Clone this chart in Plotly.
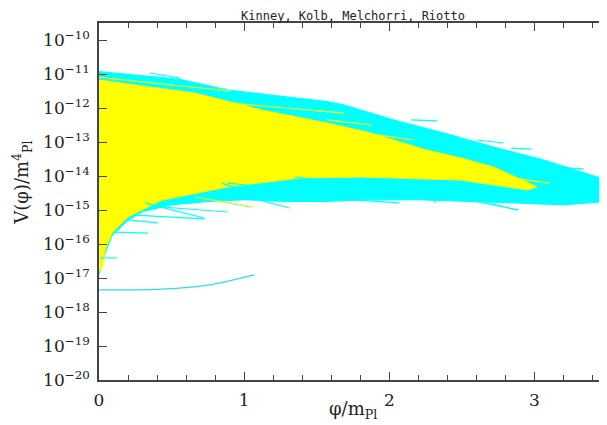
import plotly.graph_objects as go

# ---- data (x = phi/m_Pl, L = log10 V/m_Pl^4) ----
cyan_upper_x = [0, 0.55, 0.887, 1.57, 1.69, 2.03, 2.38, 2.72, 3.065, 3.5]
cyan_upper_L = [-10.93, -11.15, -11.47, -11.81, -11.91, -12.35, -12.74, -13.15, -13.53, -14.12]
cyan_lower_x = [3.5, 3.2, 2.9, 2.5, 2.2, 1.85, 1.55, 1.3, 1.0, 0.75, 0.5, 0.3, 0.2, 0.09, 0.04, 0]
cyan_lower_L = [-14.75, -14.85, -14.8, -14.75, -14.7, -14.7, -14.75, -14.75, -14.7, -14.75, -14.85, -15.05, -15.3, -15.75, -16.3, -16.9]

yellow_upper_x = [0, 0.66, 1.12, 1.57, 1.85, 2.26, 2.49, 2.72, 3.017]
yellow_upper_L = [-11.18, -11.56, -12.06, -12.44, -12.71, -13.24, -13.47, -13.74, -14.32]
yellow_lower_x = [2.95, 2.49, 1.81, 1.38, 0.887, 0.433, 0.2, 0.089, 0.041, 0.021, 0]
yellow_lower_L = [-14.41, -14.12, -14.03, -14.06, -14.32, -14.71, -15.2, -15.68, -16.18, -16.7, -16.8]

# individual cyan streaks: (x0, L0, x1, L1)
cyan_streaks = [
    (0.007, -16.41, 0.124, -16.41),
    (0.11, -15.65, 0.337, -15.68),
    (0.2, -15.29, 0.405, -15.38),
    (0.247, -15.15, 0.729, -15.26),
    (0.316, -14.79, 0.729, -15.24),
    (0.433, -14.91, 0.887, -15.06),
    (0.66, -14.62, 1.05, -14.91),
    (0.845, -14.21, 1.14, -14.62),
    (1.107, -14.71, 1.313, -14.94),
    (1.45, -14.62, 2.07, -14.79),
    (1.567, -14.32, 2.206, -14.56),
    (2.206, -14.41, 2.323, -14.79),
    (2.433, -14.62, 2.893, -15.0),
    (2.893, -14.41, 3.237, -14.71),
    (0.887, -14.21, 1.57, -14.5),
    (1.35, -14.03, 2.26, -14.5),
    (2.15, -14.21, 2.88, -15.0),
    (2.49, -14.32, 3.29, -14.79),
    (0.35, -10.97, 0.557, -11.12),
    (2.15, -12.35, 2.33, -12.38),
    (2.6, -12.94, 2.79, -13.03),
    (2.84, -13.18, 2.98, -13.21),
    (3.13, -13.74, 3.34, -13.79),
]
yellow_streaks = [
    (0.0, -11.1, 0.9, -11.5),
    (0.887, -11.85, 1.69, -12.15),
    (1.57, -12.35, 1.88, -12.5),
    (1.92, -12.79, 2.17, -12.94),
    (2.55, -13.88, 3.10, -14.21),
    (0.66, -14.62, 1.07, -14.91),
]

# isolated trajectory
lone_x = [0, 0.2, 0.43, 0.75, 1.07]
lone_L = [-17.35, -17.35, -17.33, -17.21, -16.91]

y_decades = list(range(-20, -9))
x_major = [0, 1, 2, 3]

CYAN = "#00FFFF"
YELLOW = "#FFFF00"


def p10(v):
    return [10 ** a for a in v]


def segs(lst):
    xs, ys = [], []
    for x0, l0, x1, l1 in lst:
        xs += [x0, x1, None]
        ys += [10 ** l0, 10 ** l1, None]
    return xs, ys


fig = go.Figure()
fig.add_trace(go.Scatter(
    x=cyan_upper_x + cyan_lower_x, y=p10(cyan_upper_L + cyan_lower_L),
    fill="toself", fillcolor=CYAN, mode="lines", line=dict(color=CYAN, width=1),
    hoverinfo="skip", showlegend=False))
fig.add_trace(go.Scatter(
    x=yellow_upper_x + yellow_lower_x, y=p10(yellow_upper_L + yellow_lower_L),
    fill="toself", fillcolor=YELLOW, mode="lines", line=dict(color=YELLOW, width=1),
    hoverinfo="skip", showlegend=False))
sx, sy = segs(cyan_streaks)
fig.add_trace(go.Scatter(x=sx, y=sy, mode="lines", line=dict(color=CYAN, width=1.1),
                         hoverinfo="skip", showlegend=False))
yx, yy = segs(yellow_streaks)
fig.add_trace(go.Scatter(x=yx, y=yy, mode="lines", line=dict(color=YELLOW, width=1.1),
                         hoverinfo="skip", showlegend=False))
fig.add_trace(go.Scatter(x=lone_x, y=p10(lone_L), mode="lines", line=dict(color="#33DDDD", width=1.2),
                         line_shape="spline", hoverinfo="skip", showlegend=False))

font_main = "DejaVu Serif"
# page body has an 8px margin: figure is sized/placed so the plot box lands at
# left 99, top 23, right 607, bottom 380 in the 607x425 window
fig.update_layout(
    width=599, height=417,
    margin=dict(l=91, r=0, t=15, b=45),
    paper_bgcolor="white", plot_bgcolor="white",
    showlegend=False,
    title=dict(text="Kinney, Kolb, Melchorri, Riotto", x=0.576, xanchor="center",
               y=0.982, yanchor="middle", yref="container", pad=dict(t=0, b=0),
               font=dict(family="DejaVu Sans Mono", size=12, color="#222")),
    font=dict(family=font_main, color="#222"),
)
fig.update_xaxes(
    range=[0, 3.5], showgrid=False, zeroline=False, automargin=False,
    showline=True, linecolor="#444", linewidth=1.5, mirror="allticks",
    ticks="inside", ticklen=8, tickwidth=1.2, tickcolor="#444",
    tickmode="array", tickvals=x_major, ticktext=[str(v) for v in x_major],
    tickfont=dict(family=font_main, size=17, color="#222"),
    ticklabelstandoff=4,
    minor=dict(ticks="inside", ticklen=5, tickwidth=1, tickcolor="#444", dtick=0.2, showgrid=False),
)
fig.update_yaxes(
    type="log", range=[-20, -9.5], showgrid=False, zeroline=False, automargin=False,
    showline=True, linecolor="#444", linewidth=1.5, mirror="allticks",
    ticks="inside", ticklen=8, tickwidth=1.2, tickcolor="#444",
    tickmode="array", tickvals=[10 ** d for d in y_decades],
    ticktext=["10<sup>\u2212%d</sup>" % (-d) for d in y_decades],
    tickfont=dict(family=font_main, size=17, color="#222"),
    ticklabelstandoff=4,
)
fig.add_annotation(text="\u03c6/m<sub>Pl</sub>", xref="paper", yref="paper",
                   x=0.5, y=-0.084, xanchor="center", yanchor="middle", showarrow=False,
                   font=dict(family=font_main, size=18, color="#222"))
fig.add_annotation(text="V(\u03c6)/m<sup>4</sup><sub>Pl</sub>", xref="paper", yref="paper",
                   x=-0.152, y=0.552, xanchor="center", yanchor="middle", showarrow=False,
                   textangle=-90, font=dict(family=font_main, size=18, color="#222"))

fig.write_html("out.html")
